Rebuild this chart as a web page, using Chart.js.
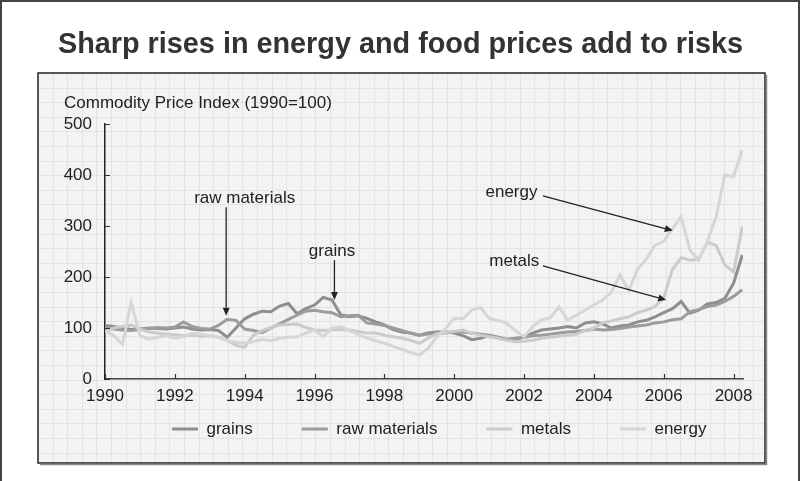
<!DOCTYPE html>
<html>
<head>
<meta charset="utf-8">
<script src="https://cdn.jsdelivr.net/npm/chart.js@4.4.1/dist/chart.umd.min.js"></script>
<style>
  html, body { margin: 0; padding: 0; background: #fff; }
</style>
</head>
<body>
<canvas id="myChart" width="801" height="481"></canvas>
<script>
// quarterly points, 1990 = 100
const years = [
  1990, 1990.25, 1990.5, 1990.75, 1991, 1991.25, 1991.5, 1991.75,
  1992, 1992.25, 1992.5, 1992.75, 1993, 1993.25, 1993.5, 1993.75,
  1994, 1994.25, 1994.5, 1994.75, 1995, 1995.25, 1995.5, 1995.75,
  1996, 1996.25, 1996.5, 1996.75, 1997, 1997.25, 1997.5, 1997.75,
  1998, 1998.25, 1998.5, 1998.75, 1999, 1999.25, 1999.5, 1999.75,
  2000, 2000.25, 2000.5, 2000.75, 2001, 2001.25, 2001.5, 2001.75,
  2002, 2002.25, 2002.5, 2002.75, 2003, 2003.25, 2003.5, 2003.75,
  2004, 2004.25, 2004.5, 2004.75, 2005, 2005.25, 2005.5, 2005.75,
  2006, 2006.25, 2006.5, 2006.75, 2007, 2007.25, 2007.5, 2007.75,
  2008, 2008.25
];
const grains = [
  105, 103, 100, 97, 98, 100, 99, 98,
  100, 102, 98, 96, 97, 95, 82, 100,
  118, 127, 133, 132, 143, 148, 128, 138,
  145, 160, 155, 126, 122, 124, 119, 112,
  106, 97, 92, 90, 86, 90, 92, 92,
  90, 85, 77, 80, 85, 82, 77, 78,
  82, 90, 96, 98, 100, 103, 100, 110,
  112, 108, 100, 104, 106, 112, 115, 122,
  130, 138, 152, 129, 135, 147, 150, 158,
  188, 243
];
const rawMaterials = [
  100, 98, 96, 95, 97, 99, 101, 100,
  102, 112, 103, 99, 98, 105, 117, 115,
  98, 95, 91, 100, 108, 117, 125, 133,
  135, 132, 130, 122, 124, 125, 110, 108,
  105, 100, 95, 90, 86, 88, 89, 90,
  92, 92, 90, 88, 86, 82, 78, 80,
  82, 85, 86, 88, 90, 92, 93, 95,
  98, 96, 97, 99, 102, 104, 106, 110,
  112, 116, 118, 132, 136, 142, 145, 152,
  162, 175
];
const metals = [
  93, 100, 103, 106, 98, 92, 90, 88,
  87, 85, 86, 84, 85, 82, 76, 66,
  62, 86, 95, 101, 106, 107, 108, 101,
  96, 95, 96, 97, 96, 93, 90, 90,
  86, 83, 80, 76, 70, 80, 89, 91,
  93, 96, 90, 86, 83, 80, 76, 73,
  74, 76, 80, 82, 84, 86, 88, 95,
  100, 110, 114, 118, 122, 130, 135, 142,
  159, 215, 238, 233, 235, 268, 262, 224,
  210, 299
];
const energy = [
  95, 85, 68, 150, 85, 78, 82, 85,
  80, 83, 90, 88, 85, 82, 75, 72,
  70, 73, 78, 75, 80, 82, 83, 90,
  96, 83, 100, 103, 95, 87, 80, 75,
  70, 64, 58, 52, 47, 60, 82, 99,
  119, 118, 135, 140, 119, 115, 109, 95,
  83, 103, 116, 120, 141, 116, 125, 135,
  145, 155, 170, 204, 174, 215, 235, 262,
  270, 295, 318, 253, 233, 270, 318, 400,
  397, 449
];
const xTicks = [1990, 1992, 1994, 1996, 1998, 2000, 2002, 2004, 2006, 2008];
const yTicks = [0, 100, 200, 300, 400, 500];
const seriesNames = ["grains", "raw materials", "metals", "energy"];
const seriesColors = ["#8e8e8e", "#9c9c9c", "#cbcbcb", "#d6d6d6"];

// callouts: label spot and arrow in data units
const notes = [
  { text: "raw materials", at: [1994.0, 354], from: [1993.47, 337], to: [1993.47, 124] },
  { text: "grains", at: [1996.5, 251], from: [1996.57, 233], to: [1996.57, 155] },
  { text: "energy", at: [2001.64, 366], from: [2002.54, 359], to: [2006.26, 291] },
  { text: "metals", at: [2001.72, 231], from: [2002.54, 222], to: [2006.07, 155] }
];

const FONT = "'Liberation Sans', Arial, sans-serif";
Chart.defaults.font.family = FONT;
Chart.defaults.font.size = 17;
Chart.defaults.color = "#222";

function toPoints(values) {
  return years.map((x, i) => ({ x, y: values[i] }));
}

const backdrop = {
  id: "backdrop",
  beforeDraw(chart) {
    const ctx = chart.ctx;
    ctx.save();
    ctx.fillStyle = "#fff";
    ctx.fillRect(0, 0, chart.width, chart.height);
    // outer frame
    ctx.strokeStyle = "#444";
    ctx.lineWidth = 2;
    ctx.beginPath();
    ctx.moveTo(1, 481); ctx.lineTo(1, 1); ctx.lineTo(799, 1); ctx.lineTo(799, 481);
    ctx.stroke();
    // panel
    const px = 38, py = 73, pw = 727, ph = 390;
    ctx.fillStyle = "#f3f3f3";
    ctx.fillRect(px, py, pw, ph);
    ctx.strokeStyle = "#e3e3e3";
    ctx.lineWidth = 1;
    ctx.beginPath();
    for (let gx = px + 14.6; gx < px + pw; gx += 14.6) {
      ctx.moveTo(Math.round(gx) + 0.5, py); ctx.lineTo(Math.round(gx) + 0.5, py + ph);
    }
    for (let gy = py + 14.6; gy < py + ph; gy += 14.6) {
      ctx.moveTo(px, Math.round(gy) + 0.5); ctx.lineTo(px + pw, Math.round(gy) + 0.5);
    }
    ctx.stroke();
    ctx.strokeStyle = "#222";
    ctx.lineWidth = 1.5;
    ctx.strokeRect(px, py, pw, ph);
    ctx.strokeStyle = "#888";
    ctx.lineWidth = 1.5;
    ctx.beginPath();
    ctx.moveTo(px + 2, py + ph + 1.5); ctx.lineTo(px + pw + 1.5, py + ph + 1.5); ctx.lineTo(px + pw + 1.5, py + 2);
    ctx.stroke();
    // axis caption
    ctx.fillStyle = "#222";
    ctx.font = "17px " + FONT;
    ctx.textAlign = "left";
    ctx.textBaseline = "middle";
    ctx.fillText("Commodity Price Index (1990=100)", 64, 103);
    ctx.restore();
  },
  afterLayout(chart) {
    // legend row sits lower in the panel with wide gaps
    const lg = chart.legend;
    const dx = 172 - (lg.left + lg.options.labels.padding);
    lg.top = 371.5;
    lg.bottom = 481;
    lg.left += dx; lg.right += dx;
  },
  afterDatasetsDraw(chart) {
    const ctx = chart.ctx;
    const xs = chart.scales.x, ys = chart.scales.y;
    const area = chart.chartArea;
    ctx.save();
    // inward tick marks
    ctx.strokeStyle = "#333";
    ctx.lineWidth = 1.2;
    ctx.beginPath();
    xTicks.forEach((t) => {
      const x = Math.round(xs.getPixelForValue(t)) + 0.5;
      ctx.moveTo(x, area.bottom); ctx.lineTo(x, area.bottom - 5);
    });
    yTicks.forEach((t) => {
      const y = Math.round(ys.getPixelForValue(t)) + 0.5;
      ctx.moveTo(area.left, y); ctx.lineTo(area.left + 5, y);
    });
    ctx.stroke();
    // callouts
    ctx.font = "17px " + FONT;
    ctx.textAlign = "center";
    ctx.textBaseline = "middle";
    ctx.fillStyle = "#222";
    ctx.strokeStyle = "#222";
    notes.forEach((n) => {
      ctx.fillText(n.text, xs.getPixelForValue(n.at[0]), ys.getPixelForValue(n.at[1]));
      const x1 = xs.getPixelForValue(n.from[0]), y1 = ys.getPixelForValue(n.from[1]);
      const x2 = xs.getPixelForValue(n.to[0]), y2 = ys.getPixelForValue(n.to[1]);
      const ang = Math.atan2(y2 - y1, x2 - x1);
      const head = 8, half = 3.5;
      const bx = x2 - head * Math.cos(ang), by = y2 - head * Math.sin(ang);
      ctx.lineWidth = 1.3;
      ctx.beginPath();
      ctx.moveTo(x1, y1); ctx.lineTo(bx, by);
      ctx.stroke();
      ctx.beginPath();
      ctx.moveTo(x2, y2);
      ctx.lineTo(bx + half * Math.sin(ang), by - half * Math.cos(ang));
      ctx.lineTo(bx - half * Math.sin(ang), by + half * Math.cos(ang));
      ctx.closePath();
      ctx.fill();
    });
    ctx.restore();
  }
};

const seriesValues = [grains, rawMaterials, metals, energy];

const config = {
  type: "line",
  data: {
    datasets: seriesNames.map((name, i) => ({
      label: name,
      data: toPoints(seriesValues[i]),
      borderColor: seriesColors[i],
      backgroundColor: seriesColors[i],
      borderWidth: 3,
      pointRadius: 0,
      tension: 0,
      fill: false
    })).reverse()
  },
  options: {
    responsive: false,
    animation: false,
    devicePixelRatio: 1,
    layout: { padding: { left: 58, right: 58, top: 0, bottom: 0 } },
    plugins: {
      title: {
        display: true,
        text: "Sharp rises in energy and food prices add to risks",
        color: "#333",
        font: { size: 29, weight: "bold" },
        padding: { top: 28, bottom: 61.2 }
      },
      legend: {
        display: true,
        position: "bottom",
        align: "start",
        reverse: true,
        maxHeight: 72,
        labels: {
          boxWidth: 26,
          boxHeight: 3,
          padding: 49,
          color: "#222",
          font: { size: 17 },
          generateLabels(chart) {
            return Chart.defaults.plugins.legend.labels.generateLabels(chart)
              .map((l) => Object.assign(l, { lineWidth: 0 }));
          }
        }
      },
      tooltip: { enabled: false }
    },
    scales: {
      x: {
        type: "linear",
        min: 1990,
        max: 2008.27,
        afterFit(scale) { scale.height = 30; },
        afterBuildTicks(scale) { scale.ticks = xTicks.map((v) => ({ value: v })); },
        grid: { display: false, drawTicks: false },
        border: { display: true, color: "#444", width: 1.5 },
        ticks: { padding: 7, maxRotation: 0, autoSkip: false, color: "#222", callback: (v) => String(v) }
      },
      y: {
        min: 0,
        max: 500,
        afterFit(scale) { scale.width = 47; },
        afterBuildTicks(scale) { scale.ticks = yTicks.map((v) => ({ value: v })); },
        grid: { display: false, drawTicks: false },
        border: { display: true, color: "#222", width: 1.5 },
        ticks: { padding: 13, color: "#222" }
      }
    }
  },
  plugins: [backdrop]
};

const ctx = document.getElementById("myChart").getContext("2d");
const myChart = new Chart(ctx, config);
</script>
</body>
</html>
